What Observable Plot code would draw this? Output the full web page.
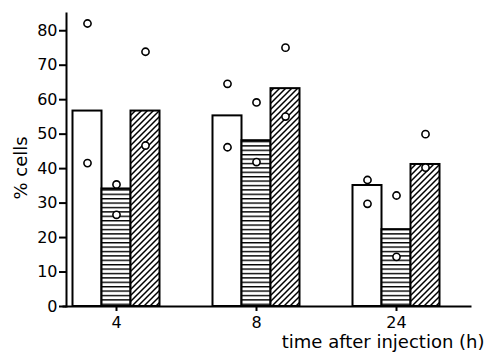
<!DOCTYPE html>
<html>
<head>
<meta charset="utf-8">
<script src="https://cdn.jsdelivr.net/npm/d3@7"></script>
<script src="https://cdn.jsdelivr.net/npm/@observablehq/plot@0.6"></script>
<style>
  html, body { margin: 0; padding: 0; background: white; }
</style>
</head>
<body>
<div id="chart"></div>
<script>
// Categories
const times = ["4", "8", "24"];                 // time after injection (h)
const series = ["open", "horizontal", "diagonal"]; // bar fill styles
const yTicks = [0, 10, 20, 30, 40, 50, 60, 70, 80];
const yLabel = "% cells";
const xLabel = "time after injection (h)";

// Bar heights (% cells) per time point
const openBars = [56.7, 55.3, 35.1];
const horizontalBars = [34.1, 48.1, 22.3];
const diagonalBars = [56.7, 63.2, 41.2];

// Individual observations (circles) per time point
const openDots = [[82.1, 41.6], [64.6, 46.2], [36.7, 29.8]];
const horizontalDots = [[35.4, 26.6], [59.2, 41.9], [32.2, 14.4]];
const diagonalDots = [[73.9, 46.7], [75.1, 55.1], [50.0, 40.3]];

const barArrays = [openBars, horizontalBars, diagonalBars];
const dotArrays = [openDots, horizontalDots, diagonalDots];

const bars = [];
const dots = [];
series.forEach((s, si) => {
  times.forEach((t, ti) => {
    bars.push({time: t, series: s, value: barArrays[si][ti]});
    dotArrays[si][ti].forEach(v => dots.push({time: t, series: s, value: v}));
  });
});

const svg = Plot.plot({
  width: 487,
  height: 356,
  marginLeft: 66,
  marginRight: 17,
  marginTop: 13,
  marginBottom: 50,
  style: {fontFamily: "'DejaVu Sans', sans-serif", fontSize: "16px", color: "black", background: "white"},
  fx: {domain: times, paddingInner: 0.2857, paddingOuter: 0.0857, align: 0, round: false, axis: null},
  x: {domain: series, paddingInner: 0, paddingOuter: 0.224, round: false, axis: null},
  y: {domain: [0, 85], axis: null},
  color: {type: "ordinal", domain: series, range: ["white", "url(#hatch-h)", "url(#hatch-d)"]},
  marks: [
    Plot.barY(bars, {fx: "time", x: "series", y: "value", fill: "series", stroke: "black", strokeWidth: 2}),
    Plot.dot(dots, {fx: "time", x: "series", y: "value", r: 3.6, fill: "white", stroke: "black", strokeWidth: 1.6}),
    Plot.frame({anchor: "bottom", facet: "super", insetRight: -24, insetLeft: -3, stroke: "black", strokeWidth: 2}),
    Plot.frame({anchor: "left", facetAnchor: "left", stroke: "black", strokeWidth: 2}),
    Plot.axisY({ticks: yTicks, tickSize: 7, tickPadding: 2, strokeWidth: 2, label: null, facetAnchor: "left"}),
    Plot.text([yLabel], {facetAnchor: "left", frameAnchor: "left", text: d => d, textAnchor: "middle", rotate: -90, dx: -45, dy: 8, fontSize: 18, letterSpacing: 1.2}),
    Plot.axisFx({anchor: "bottom", tickSize: 5, tickPadding: 5, label: null, strokeWidth: 2}),
    Plot.text([xLabel], {facet: "super", frameAnchor: "bottom-right", dx: 38, dy: 41, text: d => d, textAnchor: "end", fontSize: 18, letterSpacing: 1.5})
  ]
});

d3.select(svg).insert("defs", ":first-child").html(`
  <pattern id="hatch-h" patternUnits="userSpaceOnUse" width="4" height="4.4">
    <rect x="0" y="0" width="4" height="4.4" fill="white"></rect>
    <rect x="0" y="0" width="4" height="1.4" fill="black"></rect>
  </pattern>
  <pattern id="hatch-d" patternUnits="userSpaceOnUse" width="6" height="6">
    <rect x="0" y="0" width="6" height="6" fill="white"></rect>
    <path d="M0,6 L6,0 M-1.5,1.5 L1.5,-1.5 M4.5,7.5 L7.5,4.5" stroke="black" stroke-width="1.5"></path>
  </pattern>
`);

document.getElementById("chart").appendChild(svg);
</script>
</body>
</html>
